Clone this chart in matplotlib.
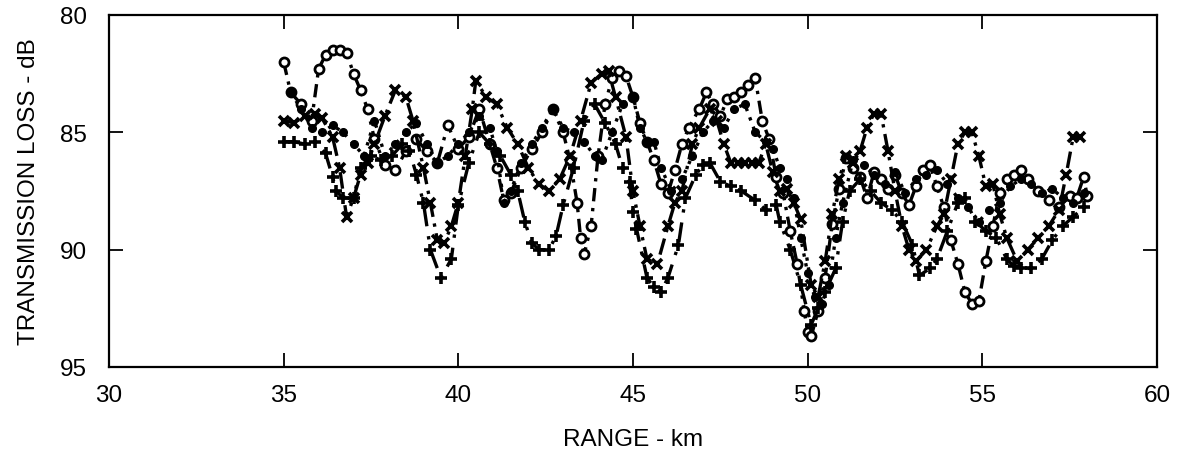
import matplotlib
matplotlib.use('Agg')
import matplotlib.pyplot as plt

# series (range km, transmission loss dB)
xa = [35.0, 35.2, 35.5, 35.8, 36.0, 36.2, 36.4, 36.6, 36.8, 37.0, 37.2, 37.4, 37.6, 37.9, 38.2,
      38.5, 38.8, 39.1, 39.4, 39.7, 40.0, 40.3, 40.6, 40.9, 41.1, 41.3, 41.5, 41.8, 42.1, 42.4,
      42.7, 43.0, 43.2, 43.4, 43.5, 43.6, 43.8, 44.0, 44.2, 44.4, 44.6, 44.8, 45.0, 45.2, 45.4,
      45.6, 45.8, 46.0, 46.2, 46.4, 46.6, 46.9, 47.1, 47.3, 47.5, 47.7, 47.9, 48.1, 48.3, 48.5,
      48.7, 48.9, 49.1, 49.3, 49.5, 49.7, 49.9, 50.0, 50.1, 50.3, 50.5, 50.7, 50.9, 51.1, 51.3,
      51.5, 51.7, 51.9, 52.1, 52.3, 52.5, 52.7, 52.9, 53.1, 53.3, 53.5, 53.7, 53.9, 54.1, 54.3,
      54.5, 54.7, 54.9, 55.1, 55.3, 55.5, 55.7, 55.9, 56.1, 56.3, 56.6, 56.9, 57.2, 57.5, 57.7,
      57.9, 58.0]
ya = [82.0, 83.3, 83.8, 84.5, 82.3, 81.7, 81.5, 81.5, 81.6, 82.5, 83.2, 84.0, 85.3, 86.4, 86.6,
      85.8, 85.3, 85.8, 86.3, 84.7, 85.7, 85.2, 84.0, 85.5, 86.5, 87.9, 87.6, 86.5, 85.7, 85.0,
      84.0, 85.0, 86.2, 88.0, 89.5, 90.2, 89.0, 86.0, 83.8, 82.7, 82.4, 82.6, 83.5, 84.6, 85.4,
      86.2, 87.2, 87.6, 86.6, 85.5, 84.8, 84.0, 83.3, 83.8, 84.3, 83.6, 83.5, 83.3, 83.0, 82.7,
      84.5, 85.3, 86.9, 87.6, 89.2, 90.6, 92.6, 93.5, 93.7, 92.6, 91.2, 88.9, 87.4, 86.1, 86.5,
      86.9, 87.8, 86.7, 87.0, 87.4, 86.8, 87.6, 88.1, 87.3, 86.6, 86.4, 87.3, 88.2, 89.6, 90.6,
      91.8, 92.3, 92.2, 90.5, 89.0, 87.6, 87.0, 86.8, 86.6, 87.0, 87.5, 87.9, 88.2, 87.7, 87.8,
      86.9, 87.7]

xb = [35.0, 35.3, 35.6, 35.9, 36.1, 36.4, 36.6, 36.8, 37.0, 37.2, 37.4, 37.6, 37.9, 38.2, 38.5,
      38.7, 39.0, 39.2, 39.4, 39.6, 39.8, 40.0, 40.2, 40.4, 40.5, 40.8, 41.1, 41.4, 41.7, 42.0,
      42.3, 42.6, 42.9, 43.2, 43.5, 43.8, 44.1, 44.3, 44.5, 44.8, 45.0, 45.2, 45.4, 45.7, 46.0,
      46.2, 46.4, 46.7, 46.9, 47.2, 47.4, 47.6, 47.8, 48.0, 48.2, 48.4, 48.6, 48.8, 49.0, 49.2,
      49.4, 49.6, 49.8, 50.1, 50.3, 50.5, 50.7, 50.9, 51.1, 51.3, 51.5, 51.7, 51.9, 52.1, 52.3,
      52.5, 52.7, 52.9, 53.1, 53.4, 53.7, 53.9, 54.1, 54.3, 54.5, 54.7, 54.9, 55.1, 55.3, 55.5,
      55.7, 56.0, 56.3, 56.6, 56.9, 57.2, 57.4, 57.6, 57.8]
yb = [84.5, 84.6, 84.3, 84.2, 84.4, 85.2, 86.5, 88.6, 87.8, 86.8, 86.3, 85.5, 84.3, 83.2, 83.5,
      84.5, 86.5, 88.0, 89.6, 89.7, 89.0, 88.0, 86.0, 84.0, 82.8, 83.5, 83.8, 84.8, 85.5, 86.5,
      87.2, 87.5, 87.0, 86.0, 84.5, 82.9, 82.5, 82.4, 83.5, 85.2, 87.5, 89.0, 90.4, 90.6, 89.0,
      88.0, 87.5, 85.5, 84.8, 84.0, 84.5, 85.5, 86.3, 86.3, 86.3, 86.3, 86.3, 85.5, 86.7, 87.5,
      87.4, 88.0, 88.7, 91.5, 92.0, 90.5, 88.5, 87.0, 86.0, 86.3, 85.8, 84.8, 84.2, 84.2, 85.8,
      87.5, 89.0, 90.0, 90.5, 90.0, 89.0, 88.5, 87.0, 85.5, 85.0, 85.0, 86.0, 87.3, 87.2, 88.5,
      89.5, 90.5, 90.0, 89.5, 89.0, 88.3, 86.8, 85.2, 85.2]

xc = [35.0, 35.3, 35.6, 35.9, 36.2, 36.4, 36.5, 36.7, 37.0, 37.2, 37.5, 37.8, 38.1, 38.4, 38.6,
      38.8, 39.0, 39.2, 39.5, 39.8, 40.0, 40.3, 40.6, 40.9, 41.2, 41.5, 41.7, 41.9, 42.1, 42.3,
      42.6, 42.8, 43.0, 43.3, 43.6, 43.9, 44.2, 44.5, 44.7, 44.9, 45.0, 45.1, 45.4, 45.6, 45.8,
      46.0, 46.3, 46.5, 46.8, 47.0, 47.2, 47.5, 47.8, 48.1, 48.5, 48.8, 49.1, 49.2, 49.5, 49.8,
      50.1, 50.3, 50.5, 50.8, 51.0, 51.2, 51.5, 51.8, 52.1, 52.4, 52.7, 53.0, 53.2, 53.5, 53.7,
      54.0, 54.3, 54.5, 54.8, 55.1, 55.4, 55.7, 55.9, 56.1, 56.4, 56.7, 57.0, 57.3, 57.6, 57.9]
yc = [85.4, 85.4, 85.5, 85.4, 85.9, 86.9, 87.5, 87.8, 87.8, 86.5, 86.0, 86.2, 86.0, 85.5, 85.8,
      86.8, 88.0, 90.0, 91.2, 90.4, 88.1, 86.3, 85.0, 85.5, 86.0, 86.8, 87.5, 88.8, 89.7, 90.0,
      90.0, 89.4, 88.1, 86.5, 84.5, 83.8, 84.6, 85.5, 86.5, 87.1, 88.4, 89.1, 91.2, 91.6, 91.8,
      91.2, 89.8, 87.8, 86.8, 86.4, 86.3, 87.1, 87.3, 87.5, 87.9, 88.3, 88.1, 88.8, 90.0, 91.5,
      93.2, 92.5, 91.8, 90.8, 88.8, 87.5, 87.0, 87.5, 88.0, 88.3, 88.8, 89.8, 91.1, 90.8, 90.4,
      89.2, 88.0, 87.8, 88.8, 89.2, 89.5, 90.4, 90.7, 90.8, 90.8, 90.4, 89.6, 89.0, 88.6, 88.2]

xd = [35.2, 35.5, 35.8, 36.1, 36.4, 36.7, 37.0, 37.3, 37.6, 37.9, 38.2, 38.5, 38.8, 39.1, 39.4,
      39.7, 40.0, 40.3, 40.6, 40.9, 41.1, 41.3, 41.5, 41.8, 42.1, 42.4, 42.7, 43.0, 43.3, 43.6,
      43.9, 44.1, 44.4, 44.7, 45.0, 45.2, 45.4, 45.6, 45.8, 46.1, 46.4, 46.7, 47.0, 47.3, 47.6,
      47.9, 48.2, 48.5, 48.8, 49.0, 49.2, 49.4, 49.6, 49.8, 50.0, 50.2, 50.4, 50.6, 50.8, 51.0,
      51.3, 51.6, 51.9, 52.2, 52.5, 52.8, 53.1, 53.4, 53.7, 54.0, 54.3, 54.6, 54.9, 55.2, 55.5,
      55.8, 56.1, 56.4, 56.7, 57.0, 57.3, 57.6, 57.9]
yd = [83.3, 84.0, 84.8, 85.0, 84.7, 85.0, 85.5, 86.0, 84.5, 86.0, 85.5, 85.0, 84.6, 85.5, 86.3,
      86.0, 85.5, 85.0, 84.3, 84.8, 85.8, 88.0, 87.5, 86.3, 85.5, 84.8, 84.0, 84.8, 85.0, 85.4,
      86.0, 86.2, 85.0, 83.8, 83.5, 84.8, 85.4, 85.4, 86.5, 87.5, 87.0, 86.0, 85.0, 84.5, 84.8,
      84.0, 83.8, 85.0, 85.4, 85.7, 86.5, 87.0, 87.8, 89.5, 91.0, 92.0, 92.3, 91.5, 89.5, 88.0,
      86.2, 86.4, 86.8, 87.2, 86.7, 87.6, 87.0, 86.8, 86.6, 87.2, 87.8, 88.2, 88.8, 88.3, 88.0,
      87.3, 87.0, 87.2, 87.6, 87.4, 87.8, 88.0, 87.6]

xticks = [30, 35, 40, 45, 50, 55, 60]
yticks = [80, 85, 90, 95]

plt.rcParams['font.family'] = ['Liberation Sans', 'DejaVu Sans']

fig = plt.figure(figsize=(11.77, 4.56), dpi=100)
ax = fig.add_axes([109 / 1177, 1 - 368 / 456, 1048 / 1177, 352 / 456])

ax.plot(xa, ya, color='black', ls=(0, (4, 2, 1, 2)), lw=2.4, marker='o', ms=6.5,
        mfc='white', mec='black', mew=2.0)
ax.plot(xb, yb, color='black', ls=(0, (5, 2, 1, 2)), lw=2.4, marker='x', ms=7.5, mew=2.6)
ax.plot(xc, yc, color='black', ls=(0, (6, 3, 1, 3)), lw=2.4, marker='+', ms=8.5, mew=2.6)
ax.plot(xd, yd, color='black', ls=(0, (1, 2)), lw=2.4, marker='o', ms=5.5, mfc='black', mec='black')

ax.set_xlim(30, 60)
ax.set_ylim(95, 80)
ax.set_xticks(xticks)
ax.set_yticks(yticks)
ax.tick_params(direction='in', length=10, width=1.3, top=True, right=True, labelsize=17.5)
ax.tick_params(axis='x', pad=12)
ax.tick_params(axis='y', pad=16)
for s in ax.spines.values():
    s.set_linewidth(1.6)

ax.set_xlabel('RANGE - km', fontsize=17.5, labelpad=16)
ax.set_ylabel('TRANSMISSION LOSS - dB', fontsize=17.5, labelpad=14)

plt.savefig('out.png', dpi=100)
